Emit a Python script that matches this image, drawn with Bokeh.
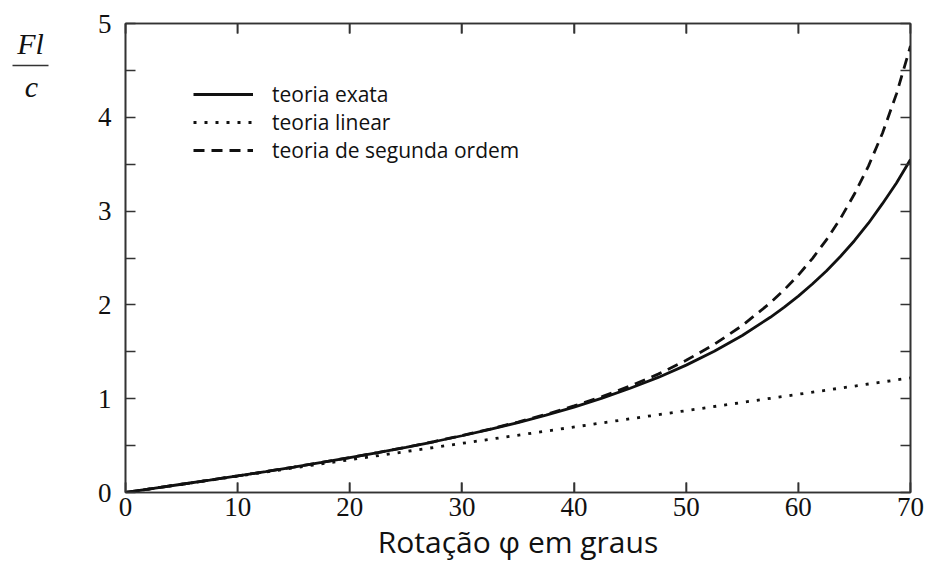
from bokeh.plotting import figure
from bokeh.layouts import row
from bokeh.models import Legend, LegendItem, LinearAxis, FixedTicker, Range1d
from bokeh.core.properties import value
from bokeh.embed import file_html
from bokeh.resources import INLINE

angles = [0, 2.5, 5, 7.5, 10, 12.5, 15, 17.5, 20, 22.5, 25, 27.5, 30, 32.5, 35,
          37.5, 40, 42.5, 45, 47.5, 50, 52.5, 55, 57.5, 58.75, 60, 61.25, 62.5,
          63.75, 65, 66.25, 67.5, 68.75, 70]
exact = [0, 0.044, 0.088, 0.132, 0.177, 0.223, 0.271, 0.320, 0.371, 0.425, 0.481,
         0.541, 0.605, 0.673, 0.746, 0.825, 0.911, 1.006, 1.111, 1.227, 1.358,
         1.505, 1.674, 1.868, 1.977, 2.094, 2.223, 2.362, 2.516, 2.684, 2.871,
         3.079, 3.300, 3.550]
second = [0, 0.044, 0.088, 0.132, 0.177, 0.223, 0.271, 0.320, 0.372, 0.426, 0.482,
          0.542, 0.607, 0.676, 0.751, 0.833, 0.923, 1.023, 1.136, 1.262, 1.409,
          1.579, 1.780, 2.022, 2.162, 2.318, 2.494, 2.693, 2.920, 3.182, 3.480,
          3.830, 4.250, 4.760]
linear_x = [0, 70]
linear_y = [0, 1.222]

x_ticks = [0, 10, 20, 30, 40, 50, 60, 70]
y_ticks = [0, 1, 2, 3, 4, 5]
y_minor = [0.5, 1.5, 2.5, 3.5, 4.5]
legend_labels = ["teoria exata", "teoria linear", "teoria de segunda ordem"]
y_title_top = "Fl"
y_title_bottom = "c"
x_title = "Rotação φ em graus"

INK = "#111111"
AX = "#333333"
SERIF = "Liberation Serif"
SANS = "Open Sans"

# ---- left strip holding the fraction Fl / c ----
q = figure(width=90, height=566, output_backend="svg", toolbar_location=None,
           x_range=Range1d(0, 90), y_range=Range1d(492, 23),
           min_border=0, x_axis_type=None, y_axis_type=None)
q.grid.visible = False
q.outline_line_color = None
q.background_fill_color = "white"
q.border_fill_color = "white"
q.text(x=[30], y=[43], text=[y_title_top], text_font=value(SERIF),
       text_font_style="italic", text_font_size="30px", text_align="center",
       text_baseline="middle", text_color=INK)
q.text(x=[31], y=[86], text=[y_title_bottom], text_font=value(SERIF),
       text_font_style="italic", text_font_size="30px", text_align="center",
       text_baseline="middle", text_color=INK)
q.segment(x0=[12], y0=[65], x1=[48], y1=[65], line_color=AX, line_width=1.6)

# ---- main chart ----
p = figure(width=836, height=566, output_backend="svg", toolbar_location=None,
           x_range=Range1d(0, 70), y_range=Range1d(0, 5),
           min_border_left=35, min_border_right=16, min_border_top=23,
           min_border_bottom=74)
p.grid.visible = False
p.outline_line_color = AX
p.outline_line_width = 1.6
p.background_fill_color = "white"
p.border_fill_color = "white"

r_exact = p.line(angles, exact, line_color=INK, line_width=2.8)
r_lin = p.line(linear_x, linear_y, line_color=INK, line_width=2.8,
               line_dash="3 8", line_cap="butt")
r_sec = p.line(angles, second, line_color=INK, line_width=2.8, line_dash="11 7")

# inward x ticks (bottom and top) at the axis tick positions
tick_len = 0.107
p.segment(x0=x_ticks, y0=[0] * len(x_ticks), x1=x_ticks,
          y1=[tick_len] * len(x_ticks), line_color=AX, line_width=1.6)
p.segment(x0=x_ticks, y0=[5] * len(x_ticks), x1=x_ticks,
          y1=[5 - tick_len] * len(x_ticks), line_color=AX, line_width=1.6)

def style_axis(ax, labels=True):
    ax.axis_line_color = AX
    ax.axis_line_width = 1.6
    ax.major_tick_line_color = AX
    ax.minor_tick_line_color = AX
    ax.major_tick_line_width = 1.6
    ax.minor_tick_line_width = 1.6
    ax.major_tick_in = 10
    ax.major_tick_out = 0
    ax.minor_tick_in = 10
    ax.minor_tick_out = 0
    ax.major_label_text_font = SERIF
    ax.major_label_text_font_size = "27px"
    ax.major_label_text_color = INK
    if not labels:
        ax.major_label_text_font_size = "1px"
        ax.major_label_text_color = None
        ax.major_label_standoff = 0

xa = p.xaxis[0]
xa.ticker = FixedTicker(ticks=x_ticks)
style_axis(xa)
xa.major_label_standoff = 5
xa.axis_label = x_title
xa.axis_label_text_font = SANS
xa.axis_label_text_font_style = "normal"
xa.axis_label_text_font_size = "30px"
xa.axis_label_text_color = INK
xa.axis_label_standoff = 2

ya = p.yaxis[0]
ya.ticker = FixedTicker(ticks=y_ticks, minor_ticks=y_minor)
style_axis(ya)
ya.major_label_standoff = 14

top = LinearAxis(ticker=FixedTicker(ticks=x_ticks))
style_axis(top, labels=False)
p.add_layout(top, "above")
right = LinearAxis(ticker=FixedTicker(ticks=y_ticks, minor_ticks=y_minor))
style_axis(right, labels=False)
p.add_layout(right, "right")

legend = Legend(items=[LegendItem(label=legend_labels[0], renderers=[r_exact]),
                       LegendItem(label=legend_labels[1], renderers=[r_lin]),
                       LegendItem(label=legend_labels[2], renderers=[r_sec])],
                location=(68, 328), border_line_color=None,
                background_fill_alpha=0, padding=0, margin=0, spacing=0,
                glyph_width=60, glyph_height=28, label_height=28,
                label_standoff=19, label_text_font=SANS,
                label_text_font_size="21px", label_text_color=INK)
p.add_layout(legend)

layout = row(q, p)
open("out.html", "w").write(file_html(layout, INLINE))
